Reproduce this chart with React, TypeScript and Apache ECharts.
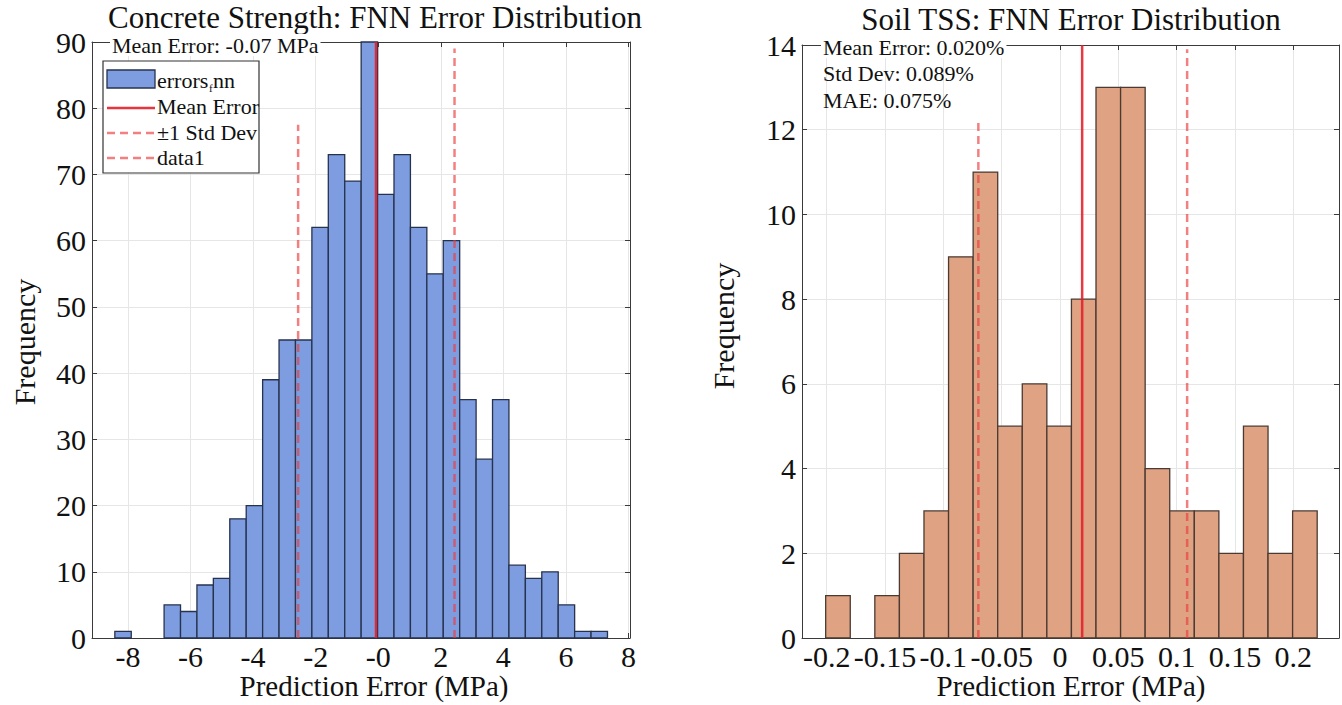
import React, { useEffect, useRef } from "react";
import * as echarts from "echarts";

// ---------- Data ----------
const leftCounts = [1, 0, 0, 5, 4, 8, 9, 18, 20, 39, 45, 45, 62, 73, 69, 90, 67, 73, 62, 55, 60, 36, 27, 36, 11, 9, 10, 5, 1, 1];
const leftBinStart = -8.42;
const leftBinWidth = 0.525;
const leftMean = -0.07;
const leftStdLow = -2.56;
const leftStdHigh = 2.44;
const leftStdLowTop = 77.5;
const leftStdHighTop = 89;
const leftXTicks = [-8, -6, -4, -2, 0, 2, 4, 6, 8];
const leftXRange = [-9.15, 8.05];
const leftYMax = 90;

const rightCounts = [1, 0, 1, 2, 3, 9, 11, 5, 6, 5, 8, 13, 13, 4, 3, 3, 2, 5, 2, 3];
const rightBinStart = -0.2009;
const rightBinWidth = 0.02107;
const rightMean = 0.019;
const rightStdLow = -0.07;
const rightStdHigh = 0.109;
const rightStdLowTop = 12.2;
const rightStdHighTop = 13.9;
const rightXTicks = [-0.2, -0.15, -0.1, -0.05, 0, 0.05, 0.1, 0.15, 0.2];
const rightXRange = [-0.2212, 0.2392];
const rightYMax = 14;

const leftTitle = "Concrete Strength: FNN Error Distribution";
const rightTitle = "Soil TSS: FNN Error Distribution";
const xName = "Prediction Error (MPa)";
const yName = "Frequency";
const leftStatText = "Mean Error: -0.07 MPa";
const rightStatTexts = ["Mean Error: 0.020%", "Std Dev: 0.089%", "MAE: 0.075%"];
const legendLabels = ["Mean Error", "±1 Std Dev", "data1"];

const SERIF = "Liberation Serif";
const FRAME = "#3a3a3a";
const GRID = "#e6e6e6";
const TICK_FONT = 30;

function bins(counts: number[], start: number, width: number) {
  const out: number[][] = [];
  counts.forEach((c, i) => {
    if (c > 0) out.push([start + i * width, start + (i + 1) * width, c]);
  });
  return out;
}

function histSeries(data: number[][], xi: number, yi: number, fill: string, stroke: string) {
  return {
    type: "custom",
    xAxisIndex: xi,
    yAxisIndex: yi,
    z: 2,
    encode: { x: [0, 1], y: 2 },
    data,
    renderItem: (params: any, api: any) => {
      const p0 = api.coord([api.value(0), api.value(2)]);
      const p1 = api.coord([api.value(1), 0]);
      return {
        type: "rect",
        shape: { x: p0[0], y: p0[1], width: p1[0] - p0[0], height: p1[1] - p0[1] },
        style: { fill, stroke, lineWidth: 1.3 },
      };
    },
  };
}

function vline(x: number, top: number, xi: number, yi: number, dashed: boolean) {
  return {
    type: "line",
    xAxisIndex: xi,
    yAxisIndex: yi,
    z: 5,
    symbol: "none",
    silent: true,
    data: [
      [x, 0],
      [x, top],
    ],
    lineStyle: dashed
      ? { color: "rgba(236,60,60,0.65)", width: 2.5, type: [8, 5] }
      : { color: "rgba(228,30,40,0.88)", width: 2.5, type: "solid" },
  };
}

function xAxes(grid: number, range: number[], ticks: number[], fmt: (v: number) => string) {
  return [
    {
      type: "value",
      gridIndex: grid,
      min: range[0],
      max: range[1],
      axisLine: { show: true, onZero: false, lineStyle: { color: FRAME, width: 1 } },
      axisTick: { show: true, inside: true, length: 5, customValues: ticks, lineStyle: { color: FRAME } },
      axisLabel: {
        customValues: ticks,
        formatter: fmt,
        fontFamily: SERIF,
        fontSize: TICK_FONT,
        color: "#111",
        margin: 3,
      },
      splitLine: { show: true, lineStyle: { color: GRID, width: 1 } },
    },
    {
      type: "value",
      gridIndex: grid,
      position: "top",
      min: range[0],
      max: range[1],
      axisLine: { show: true, onZero: false, lineStyle: { color: FRAME, width: 1 } },
      axisTick: { show: true, inside: true, length: 5, customValues: ticks, lineStyle: { color: FRAME } },
      axisLabel: { show: false },
      splitLine: { show: false },
    },
  ];
}

function yAxes(grid: number, max: number, interval: number) {
  return [
    {
      type: "value",
      gridIndex: grid,
      min: 0,
      max,
      interval,
      axisLine: { show: true, onZero: false, lineStyle: { color: FRAME, width: 1 } },
      axisTick: { show: true, inside: true, length: 5, lineStyle: { color: FRAME } },
      axisLabel: { fontFamily: SERIF, fontSize: TICK_FONT, color: "#111", margin: 6 },
      splitLine: { show: true, lineStyle: { color: GRID, width: 1 } },
    },
    {
      type: "value",
      gridIndex: grid,
      position: "right",
      min: 0,
      max,
      interval,
      axisLine: { show: true, onZero: false, lineStyle: { color: FRAME, width: 1 } },
      axisTick: { show: true, inside: true, length: 5, lineStyle: { color: FRAME } },
      axisLabel: { show: false },
      splitLine: { show: false },
    },
  ];
}

export default function App() {
  const ref = useRef<HTMLDivElement>(null);

  useEffect(() => {
    if (!ref.current) return;
    const chart = echarts.init(ref.current, undefined, { renderer: "svg" });

    const leftFill = "#7d9de0";
    const leftStroke = "#27324d";
    const rightFill = "#dfa283";
    const rightStroke = "#4a3a32";

    const txt = (text: string, x: number, y: number, size: number, extra: any = {}, rot = 0) => ({
      type: "text",
      x,
      y,
      z: 100,
      rotation: rot,
      style: {
        text,
        fontFamily: SERIF,
        fontSize: size,
        fill: "#111",
        align: "left",
        verticalAlign: "middle",
        ...extra,
      },
    });

    const legX = 103;
    const legY = 61;
    const option: any = {
      animation: false,
      backgroundColor: "#ffffff",
      textStyle: { fontFamily: SERIF },
      grid: [
        { left: 92, top: 42, width: 538, height: 596, outerBoundsMode: "none", containLabel: false },
        { left: 802, top: 45, width: 537, height: 593, outerBoundsMode: "none", containLabel: false },
      ],
      xAxis: [
        ...xAxes(0, leftXRange, leftXTicks, (v: number) => (v === 0 ? "-0" : String(v))),
        ...xAxes(1, rightXRange, rightXTicks, (v: number) => String(Number(v.toFixed(2)))),
      ],
      yAxis: [...yAxes(0, leftYMax, 10), ...yAxes(1, rightYMax, 2)],
      series: [
        histSeries(bins(leftCounts, leftBinStart, leftBinWidth), 0, 0, leftFill, leftStroke),
        vline(leftMean, leftYMax, 0, 0, false),
        vline(leftStdLow, leftStdLowTop, 0, 0, true),
        vline(leftStdHigh, leftStdHighTop, 0, 0, true),
        histSeries(bins(rightCounts, rightBinStart, rightBinWidth), 2, 2, rightFill, rightStroke),
        vline(rightMean, rightYMax, 2, 2, false),
        vline(rightStdLow, rightStdLowTop, 2, 2, true),
        vline(rightStdHigh, rightStdHighTop, 2, 2, true),
      ],
      graphic: [
        txt(leftTitle, 375, 17, 31, { align: "center" }),
        txt(rightTitle, 1071, 19, 31, { align: "center" }),
        txt(xName, 374, 686, 29, { align: "center" }),
        txt(xName, 1071, 686, 29, { align: "center" }),
        txt(yName, 24, 342, 30, { align: "center" }, Math.PI / 2),
        txt(yName, 723, 326, 30, { align: "center" }, Math.PI / 2),
        txt(leftStatText, 110, 45, 22, { backgroundColor: "#fff", padding: [0, 2, 0, 2] }),
        txt(rightStatTexts[0], 821, 47, 22, { backgroundColor: "#fff", padding: [0, 2, 0, 2] }),
        txt(rightStatTexts[1], 823, 73, 22),
        txt(rightStatTexts[2], 823, 100, 22),
        // legend box
        {
          type: "rect",
          z: 90,
          shape: { x: legX, y: legY, width: 156, height: 112 },
          style: { fill: "#fff", stroke: "#333", lineWidth: 1.2 },
        },
        {
          type: "rect",
          z: 100,
          shape: { x: 107, y: 70, width: 48, height: 18 },
          style: { fill: leftFill, stroke: leftStroke, lineWidth: 1.3 },
        },
        txt("errors", 157, 80, 22),
        txt("f", 209, 88, 11),
        txt("nn", 213, 80, 22),
        {
          type: "line",
          z: 100,
          shape: { x1: 107, y1: 108, x2: 155, y2: 108 },
          style: { stroke: "rgba(228,30,40,0.9)", lineWidth: 2.5 },
        },
        txt(legendLabels[0], 157, 106, 22),
        {
          type: "line",
          z: 100,
          shape: { x1: 107, y1: 133, x2: 155, y2: 133 },
          style: { stroke: "rgba(236,60,60,0.65)", lineWidth: 2.5, lineDash: [8, 5] },
        },
        txt(legendLabels[1], 157, 132, 22),
        {
          type: "line",
          z: 100,
          shape: { x1: 107, y1: 158, x2: 155, y2: 158 },
          style: { stroke: "rgba(236,60,60,0.65)", lineWidth: 2.5, lineDash: [8, 5] },
        },
        txt(legendLabels[2], 157, 157, 22),
      ],
    };

    chart.setOption(option);
    return () => chart.dispose();
  }, []);

  return (
    <div
      ref={ref}
      style={{ position: "fixed", left: 0, top: 0, width: 1342, height: 705, background: "#fff" }}
    />
  );
}
